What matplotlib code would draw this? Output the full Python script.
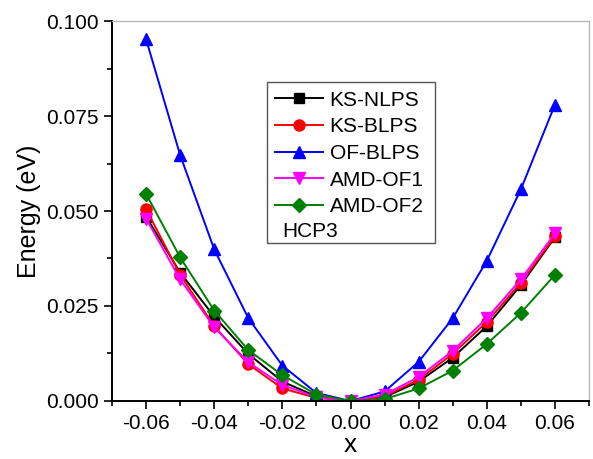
import matplotlib
matplotlib.use("Agg")
import matplotlib.pyplot as plt
from matplotlib.ticker import MultipleLocator, FormatStrFormatter
from matplotlib.patches import Rectangle

plt.rcParams['font.family'] = ['Liberation Sans', 'DejaVu Sans']

x = [-0.06, -0.05, -0.04, -0.03, -0.02, -0.01, 0.0, 0.01, 0.02, 0.03, 0.04, 0.05, 0.06]
ks_nlps = [0.0485, 0.0338, 0.0222, 0.0124, 0.0051, 0.0012, 0.0, 0.0010, 0.0051, 0.0114, 0.0197, 0.0305, 0.0431]
ks_blps = [0.0505, 0.0332, 0.0197, 0.0097, 0.0033, 0.0008, 0.0, 0.0012, 0.0056, 0.0124, 0.0208, 0.0311, 0.0433]
of_blps = [0.0952, 0.0647, 0.0399, 0.0218, 0.0093, 0.0021, 0.0, 0.0025, 0.0103, 0.0218, 0.0369, 0.0557, 0.0780]
amd_of1 = [0.0480, 0.0320, 0.0194, 0.0102, 0.0042, 0.0010, 0.0, 0.0017, 0.0063, 0.0132, 0.0218, 0.0320, 0.0441]
amd_of2 = [0.0545, 0.0378, 0.0238, 0.0134, 0.0068, 0.0017, 0.0, 0.0005, 0.0033, 0.0080, 0.0150, 0.0232, 0.0332]

labels = ['KS-NLPS', 'KS-BLPS', 'OF-BLPS', 'AMD-OF1', 'AMD-OF2']
annotation = 'HCP3'
colors = ['black', '#ff0000', '#0000ff', '#ff00ff', '#008000']
markers = ['s', 'o', '^', 'v', 'D']
sizes = [7, 8, 8, 8, 7]
series = [ks_nlps, ks_blps, of_blps, amd_of1, amd_of2]

fig = plt.figure(figsize=(5.93, 4.59), dpi=100)
ax = fig.add_axes([0.1889, 0.1264, 0.8044, 0.8278])

for ys, lab, c, m, s in zip(series, labels, colors, markers, sizes):
    ax.plot(x, ys, color=c, marker=m, markersize=s, lw=1.4, label=lab)

ax.set_xlim(-0.07, 0.07)
ax.set_ylim(0.0, 0.1)
ax.xaxis.set_major_locator(MultipleLocator(0.02))
ax.xaxis.set_minor_locator(MultipleLocator(0.01))
ax.yaxis.set_major_locator(MultipleLocator(0.025))
ax.yaxis.set_minor_locator(MultipleLocator(0.0125))
ax.xaxis.set_major_formatter(FormatStrFormatter('%.2f'))
ax.yaxis.set_major_formatter(FormatStrFormatter('%.3f'))
ax.tick_params(which='both', direction='out', width=1.2, labelsize=15)
ax.tick_params(which='major', length=6)
ax.tick_params(which='minor', length=3.5)
ax.tick_params(top=False, right=False)
for sp in ['left', 'bottom']:
    ax.spines[sp].set_linewidth(1.4)
for sp in ['top', 'right']:
    ax.spines[sp].set_color('#b8b8b8')
    ax.spines[sp].set_linewidth(1.0)

ax.set_xlabel('x', fontsize=19, labelpad=0)
ax.set_ylabel('Energy (eV)', fontsize=18, labelpad=4)

# legend frame drawn as a box so that the "HCP3" note fits inside it
ax.add_patch(Rectangle((0.325, 0.416), 0.352, 0.424, transform=ax.transAxes,
                       facecolor='white', edgecolor='#555555', lw=1.0, zorder=4))
leg = ax.legend(loc='upper left', bbox_to_anchor=(0.325, 0.839),
                fontsize=15, frameon=False,
                handlelength=2.3, handletextpad=0.3, labelspacing=0.37,
                borderpad=0.4, borderaxespad=0.0)
leg.set_zorder(6)
ax.text(0.356, 0.445, annotation, transform=ax.transAxes, fontsize=15,
        ha='left', va='center', zorder=10)

fig.savefig('out.png', dpi=100)
